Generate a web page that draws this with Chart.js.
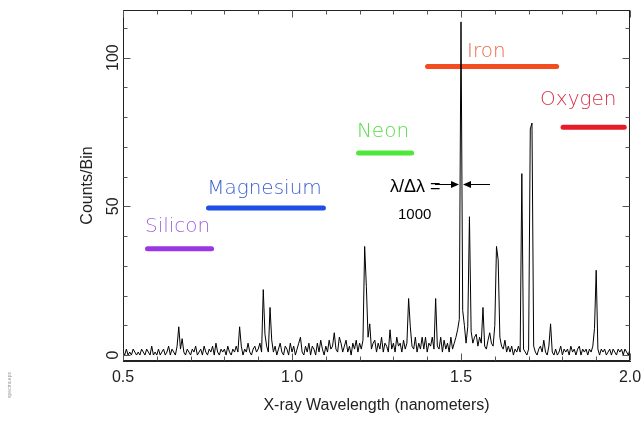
<!DOCTYPE html>
<html>
<head>
<meta charset="utf-8">
<script src="https://cdn.jsdelivr.net/npm/chart.js@4.4.0/dist/chart.umd.min.js"></script>
<style>
html,body{margin:0;padding:0;background:#fff;}
#wrap{width:641px;height:422px;position:relative;}
</style>
</head>
<body>
<div id="wrap"><canvas id="c" width="641" height="422"></canvas></div>
<script>
// ---- data ----
const binStart = 0.5;      // nm, first bin
const binWidth = 0.005;    // nm per bin
const counts = [
 1,0,2,0,1,0,2,1,0,1,0,2,1,0,2,1,0,3,0,1,
 0,2,0,1,2,0,1,3,0,2,1,0,3,9.5,2,5.5,1,0,2,1,
 0,2,1,3,0,1,2,0,3,1,0,2,1,3,0,4,1,0,2,1,
 2,0,3,1,0,2,1,3,1,9.5,3,0,2,1,4,1,0,2,3,1,
 2,4,1,22,7,3,1,16,5,1,3,0,2,4,1,0,3,2,0,4,
 1,3,0,2,4,6,1,0,3,1,4,0,3,2,0,4,1,5,2,0,
 3,1,5,2,3,7.5,2,1,6,4,1,3,5,1,3,0,4,2,5,1,
 4,2,5,36.5,23,6,10.5,2,4,5,1,4,2,6,1,4,3,1,8.5,2,
 4,1,6,3,4,1,5,2,4,19,9.5,3,2,6,1,4,2,6,2,6,
 1,4,3,6,2,19,3,2,6,1,5,2,4,1,6,2,4,6,8.5,12,
 112,15,10,4,9.5,46.5,8,4,6,7,3,6,4,16,3,2,5,7.5,4,3,
 10,36.5,32,6,3,2,5,1,3,1,3,0,2,1,3,1,61,2,1,0,
 2,76,78,3,1,0,2,3,1,5,1,0,3,10.5,1,0,2,0,1,3,
 0,2,1,2,0,3,1,2,0,2,3,0,2,1,2,0,2,1,3,9,
 28.5,2,0,2,1,2,0,1,2,0,2,1,0,2,1,2,0,2,1,0,2
];
const xTickValues = [0.5, 1.0, 1.5, 2.0];
const yTickValues = [0, 50, 100];
const elementNames = ['Silicon', 'Magnesium', 'Neon', 'Iron', 'Oxygen'];
const bandStart = [0.5725, 0.753, 1.197, 1.401, 1.802];   // nm
const bandEnd   = [0.762, 1.093, 1.354, 1.783, 1.983];    // nm
const bandLevel = [35.7, 49.4, 67.9, 97.0, 76.6];         // counts
const labelX    = [0.565, 0.749, 1.192, 1.518, 1.734];    // nm
const labelY    = [41.3, 54.0, 73.2, 100.1, 83.9];        // counts (baseline)
const resolutionLine = 1.5;     // nm
const resolutionText = ['λ/Δλ =', '1000'];

// ---- styles ----
const bandColors  = ['#9a36e4', '#1f4ee6', '#4ee83a', '#f24c20', '#e81c28'];
const labelColors = ['#a066dd', '#3d5fcc', '#55dd44', '#e86a48', '#d83048'];
const axisFont = '"Liberation Sans", Arial, sans-serif';
const elemFont = '"DejaVu Sans", sans-serif';

const spectrum = counts.map((c, i) => ({x: +(binStart + i * binWidth).toFixed(4), y: c}));

const datasets = [{
  data: spectrum, borderColor: '#000', borderWidth: 1, pointRadius: 0,
  tension: 0, order: 0, fill: false
}];
elementNames.forEach((n, i) => {
  datasets.push({
    data: [{x: bandStart[i], y: bandLevel[i]}, {x: bandEnd[i], y: bandLevel[i]}],
    borderColor: bandColors[i], borderWidth: 5, borderCapStyle: 'round',
    pointRadius: 0, order: 1, fill: false
  });
});

const decor = {
  id: 'decor',
  afterDatasetsDraw(chart) {
    const {ctx, chartArea: a, scales: {x, y}} = chart;
    ctx.save();
    // frame
    ctx.strokeStyle = '#222'; ctx.lineWidth = 1;
    const L = Math.round(a.left) + 0.5, R = Math.round(a.right) - 0.5;
    const T = Math.round(a.top) + 0.5, B = Math.round(a.bottom) - 0.5;
    ctx.strokeRect(L, T, R - L, B - T);
    // inward ticks
    ctx.strokeStyle = '#555';
    ctx.beginPath();
    for (let k = 0; k <= 15; k++) {
      const v = 0.5 + k / 10;
      const len = (k % 5 === 0) ? 7 : 4;
      const px = Math.round(x.getPixelForValue(v)) + 0.5;
      ctx.moveTo(px, B); ctx.lineTo(px, B - len);
      ctx.moveTo(px, T); ctx.lineTo(px, T + len);
    }
    for (let v = 0; v <= 110; v += 10) {
      const len = (v % 50 === 0) ? 7 : 4;
      const py = Math.round(y.getPixelForValue(v)) + 0.5;
      ctx.moveTo(L, py); ctx.lineTo(L + len, py);
      ctx.moveTo(R, py); ctx.lineTo(R - len, py);
    }
    ctx.stroke();
    // y tick labels, rotated
    ctx.fillStyle = '#222';
    ctx.font = '16px ' + axisFont;
    ctx.textAlign = 'center'; ctx.textBaseline = 'middle';
    yTickValues.forEach(v => {
      ctx.save();
      ctx.translate(a.left - 9, y.getPixelForValue(v));
      ctx.rotate(-Math.PI / 2);
      ctx.fillText(String(v), 0, 0);
      ctx.restore();
    });
    // element labels
    ctx.font = '300 20px ' + elemFont;
    ctx.textAlign = 'left'; ctx.textBaseline = 'alphabetic';
    elementNames.forEach((n, i) => {
      ctx.fillStyle = labelColors[i];
      ctx.fillText(n, x.getPixelForValue(labelX[i]), y.getPixelForValue(labelY[i]));
    });
    // resolution annotation
    const cx = x.getPixelForValue(resolutionLine);
    const ay = Math.round(y.getPixelForValue(57.4)) + 0.5;
    ctx.strokeStyle = '#000'; ctx.fillStyle = '#000'; ctx.lineWidth = 1;
    ctx.beginPath();
    ctx.moveTo(cx - 26, ay); ctx.lineTo(cx - 4, ay);
    ctx.moveTo(cx + 3, ay); ctx.lineTo(cx + 29, ay);
    ctx.stroke();
    ctx.beginPath();
    ctx.moveTo(cx - 2, ay); ctx.lineTo(cx - 10, ay - 3.5); ctx.lineTo(cx - 10, ay + 3.5); ctx.closePath();
    ctx.moveTo(cx + 2, ay); ctx.lineTo(cx + 10, ay - 3.5); ctx.lineTo(cx + 10, ay + 3.5); ctx.closePath();
    ctx.fill();
    ctx.font = '18px ' + axisFont;
    ctx.textAlign = 'left'; ctx.textBaseline = 'middle';
    ctx.fillText(resolutionText[0], cx - 71, ay + 3);
    ctx.font = '15px ' + axisFont;
    ctx.fillText(resolutionText[1], cx - 63, ay + 30);
    // tiny file tag
    ctx.save();
    ctx.translate(10, 385); ctx.rotate(-Math.PI / 2);
    ctx.font = '5px ' + axisFont; ctx.fillStyle = '#999'; ctx.textAlign = 'center';
    ctx.fillText('spectra.eps', 0, 0);
    ctx.restore();
    ctx.restore();
  }
};

new Chart(document.getElementById('c'), {
  type: 'line',
  data: {datasets},
  options: {
    responsive: false, animation: false, devicePixelRatio: 1,
    layout: {padding: {left: 0, top: 10, right: 11, bottom: 0}},
    plugins: {legend: {display: false}, tooltip: {enabled: false}},
    scales: {
      x: {
        type: 'linear', min: 0.5, max: 2.0,
        afterBuildTicks: s => { s.ticks = xTickValues.map(v => ({value: v})); },
        afterFit: s => { s.height = 61; s.paddingLeft = 0; s.paddingRight = 0; },
        grid: {display: false, drawTicks: false},
        border: {display: true, color: '#222'},
        ticks: {color: '#222', font: {family: axisFont, size: 16}, padding: 7,
                maxRotation: 0, autoSkip: false, callback: v => Number(v).toFixed(1)},
        title: {display: true, text: 'X-ray Wavelength (nanometers)', color: '#222',
                font: {family: axisFont, size: 16}, padding: {top: 0, bottom: 7}}
      },
      y: {
        type: 'linear', min: -2, max: 116,
        afterFit: s => { s.width = 123; s.paddingTop = 0; s.paddingBottom = 0; },
        grid: {display: false, drawTicks: false},
        border: {display: true, color: '#222'},
        ticks: {display: false},
        title: {display: true, text: 'Counts/Bin', color: '#222',
                font: {family: axisFont, size: 16}, padding: {top: 78, bottom: 0}}
      }
    }
  },
  plugins: [decor]
});
</script>
</body>
</html>
